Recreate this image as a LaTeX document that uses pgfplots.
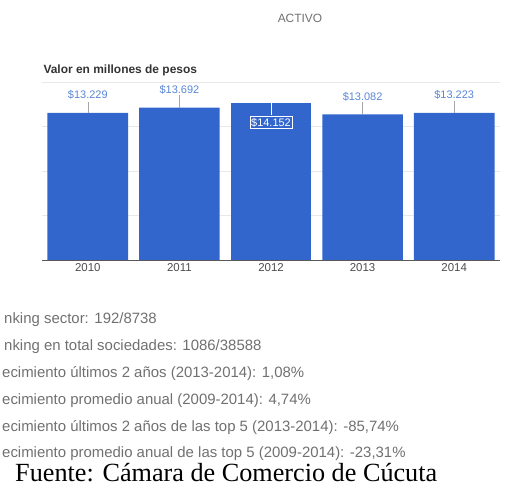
\documentclass[border=0pt]{standalone}
\usepackage{pgfplots}
\pgfplotsset{compat=1.18}
\usepackage{fontspec}
\setmainfont{Liberation Sans}
\newfontfamily\seriffont{Liberation Serif}
\definecolor{barblue}{HTML}{3366CC}
\definecolor{lblblue}{HTML}{5A86D6}
\definecolor{txtgray}{HTML}{707070}
\definecolor{gridgray}{HTML}{E8E8E8}

\pgfplotstableread{
x y
0 13229
1 13692
3 13082
4 13223
}\outer
\pgfplotstableread{
x y
2 14152
}\middle

\begin{document}
\begin{tikzpicture}[x=1bp,y=1bp]
\useasboundingbox (0,0) rectangle (509,488);
\node[font=\fontsize{12}{14}\selectfont, text=txtgray] at (300,470) {ACTIVO};
\node[anchor=west, font=\fontsize{12}{14}\bfseries, text=black!80] at (40,418) {Valor en millones de pesos};
\begin{axis}[
  at={(42bp,228bp)}, anchor=south west,
  scale only axis, width=458bp, height=178bp,
  xmin=-0.5, xmax=4.5, ymin=0, ymax=16000,
  ybar, bar width=0.88, bar shift=0pt,
  xtick={0,...,4}, xticklabels={2010,2011,2012,2013,2014},
  xticklabel style={font=\fontsize{11.5}{13}\selectfont, text=black!70},
  ytick={4000,8000,12000,16000}, yticklabels={}, scaled y ticks=false,
  ymajorgrids, grid style={gridgray, line width=0.8pt},
  axis line style={draw=none}, major tick length=0pt,
  extra y ticks={0}, extra y tick labels={},
  extra y tick style={grid style={black!65, line width=0.9pt}},
  point meta=y,
]
\addplot[fill=barblue, draw=none,
  nodes near coords={\$\pgfmathprintnumber[fixed, precision=0, 1000 sep={.}, assume math mode=true]{\pgfplotspointmeta}},
  nodes near coords style={anchor=center, yshift=18bp, font=\fontsize{11}{13}\selectfont, text=lblblue}]
  table {\outer};
\addplot[fill=barblue, draw=none,
  nodes near coords={\$\pgfmathprintnumber[fixed, precision=0, 1000 sep={.}, assume math mode=true]{\pgfplotspointmeta}},
  nodes near coords style={anchor=center, yshift=-20bp, font=\fontsize{11}{13}\selectfont, text=white, draw=white, inner sep=1.5bp}]
  table {\middle};
\draw[gray!70] (axis cs:0,13229) -- ++(0bp,11bp);
\draw[gray!70] (axis cs:1,13692) -- ++(0bp,13bp);
\draw[white] (axis cs:2,14152) -- ++(0bp,-12bp);
\draw[gray!70] (axis cs:3,13082) -- ++(0bp,12bp);
\draw[gray!70] (axis cs:4,13223) -- ++(0bp,12bp);
\end{axis}
\begin{scope}[every node/.style={anchor=west, font=\fontsize{15}{16}\selectfont, text=txtgray, inner sep=0pt}]
\node at (4,168) {nking sector: 192/8738};
\node at (4,141) {nking en total sociedades: 1086/38588};
\node at (2,114) {ecimiento últimos 2 años (2013-2014): 1,08\%};
\node at (2,87) {ecimiento promedio anual (2009-2014): 4,74\%};
\node at (2,60) {ecimiento últimos 2 años de las top 5 (2013-2014): -85,74\%};
\node at (2,34) {ecimiento promedio anual de las top 5 (2009-2014): -23,31\%};
\end{scope}
\node[anchor=base west, inner sep=0pt, font=\seriffont\fontsize{26.3}{28}\selectfont] at (15,6.5) {Fuente: Cámara de Comercio de Cúcuta};
\end{tikzpicture}
\end{document}
